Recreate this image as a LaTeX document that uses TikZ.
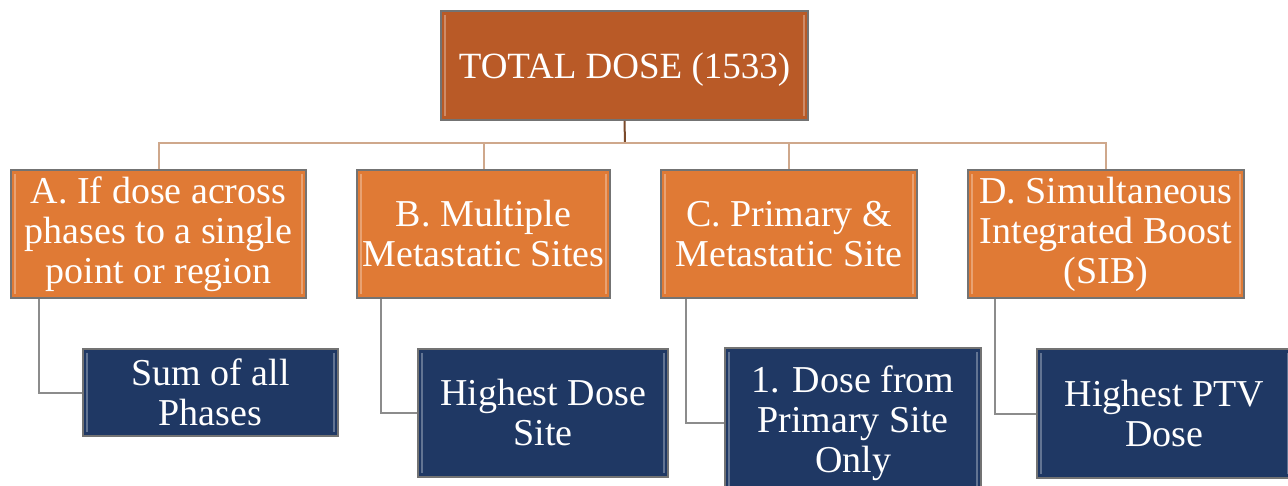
\documentclass[tikz,border=0pt]{standalone}
\usepackage{fontspec}
\setmainfont{Liberation Serif}
\usetikzlibrary{calc}
\definecolor{rust}{HTML}{B95A27}
\definecolor{pumpkin}{HTML}{E07A35}
\definecolor{navy}{HTML}{1F3864}
\definecolor{tan}{HTML}{CFA88C}
\definecolor{bark}{HTML}{7B4A2B}

\begin{document}
\begin{tikzpicture}[x=1pt,y=-1pt,
	box/.style={draw=black!55, line width=1.6pt, fill=#1, text=white, align=center,
		inner sep=0pt, font=\fontsize{38}{40}\selectfont,
		path picture={
			\draw[#1!70!white, line width=2pt]
				([xshift=4pt,yshift=-4pt]path picture bounding box.north west) --
				([xshift=4pt,yshift=4pt]path picture bounding box.south west);
			\draw[#1!70!white, line width=2pt]
				([xshift=-4pt,yshift=-4pt]path picture bounding box.north east) --
				([xshift=-4pt,yshift=4pt]path picture bounding box.south east);
		}},
	sink/.style={execute at begin node={\rule{0pt}{34pt}}},
	trunk/.style={draw=bark, line width=2pt},
	branch/.style={draw=tan, line width=2pt},
	leg/.style={draw=black!45, line width=2pt}]
	%%%%% START %%%%%
	\useasboundingbox (0,0) rectangle (1288,486);
	\clip (0,0) rectangle (1288,486);
	
	% top
	\node[box=rust, sink, minimum width=367, minimum height=109,
		font=\fontsize{37}{40}\selectfont] (top) at (624.5,65.5) {TOTAL DOSE (1533)};
	
	% second row
	\node[box=pumpkin, sink, minimum width=295, minimum height=128] (siteA) at (158.5,234)
		{A. If dose across\\phases to a single\\point or region};
	\node[box=pumpkin, sink, minimum width=253, minimum height=128] (siteB) at (483.5,234)
		{B. Multiple\\Metastatic Sites};
	\node[box=pumpkin, sink, minimum width=256, minimum height=128] (siteC) at (789,234)
		{C. Primary \&\\Metastatic Site};
	\node[box=pumpkin, sink, minimum width=276, minimum height=128] (siteD) at (1106,234)
		{D. Simultaneous\\Integrated Boost\\(SIB)};
	
	% third row
	\node[box=navy, minimum width=255, minimum height=87] (sumA) at (210.5,392.5)
		{Sum of all\\Phases};
	\node[box=navy, minimum width=250, minimum height=128] (sumB) at (543,413)
		{Highest Dose\\Site};
	\node[box=navy, minimum width=256, minimum height=150] (sumC) at (853,423)
		{1. Dose from\\Primary Site\\Only};
	\node[box=navy, minimum width=255, minimum height=129] (sumD) at (1164.5,413.5)
		{Highest PTV\\Dose};
	
	% connectors
	\coordinate (bus) at (625,143);
	\draw[trunk] (top.south) -- (bus);
	\draw[branch] (siteA.north) |- (bus) -| (siteD.north);
	\draw[branch] (siteB.north) -- (siteB.north |- bus);
	\draw[branch] (siteC.north) -- (siteC.north |- bus);
	
	\draw[leg] ([xshift=29pt]siteA.south west) |- (sumA.west);
	\draw[leg] ([xshift=25pt]siteB.south west) |- (sumB.west);
	\draw[leg] ([xshift=26pt]siteC.south west) |- (sumC.west);
	\draw[leg] ([xshift=28pt]siteD.south west) |- (sumD.west);
	%%%%% END %%%%%
\end{tikzpicture}
\end{document}
